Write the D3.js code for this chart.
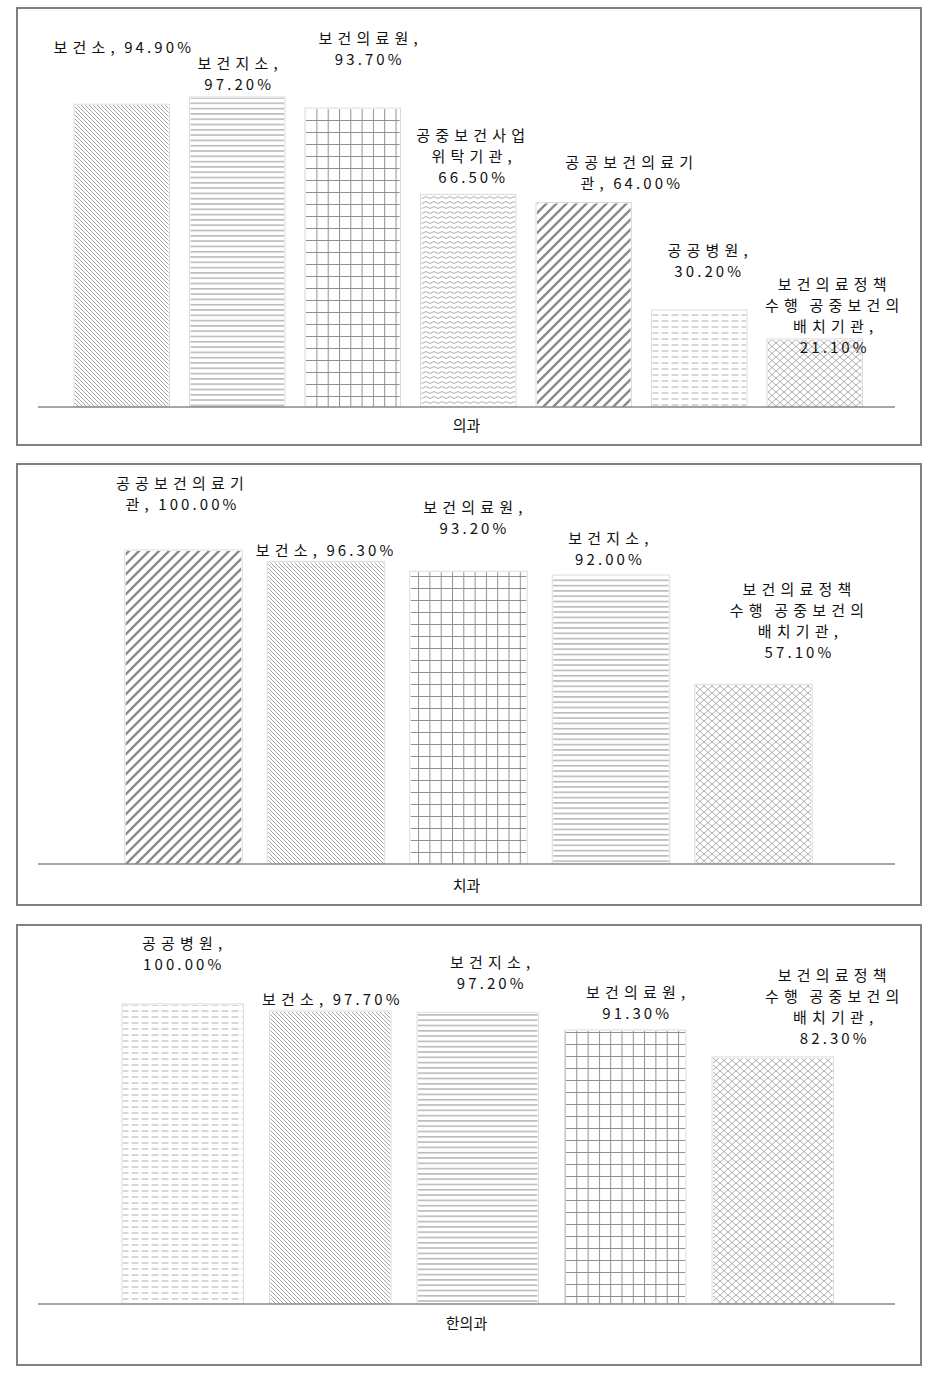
<!DOCTYPE html>
<html>
<head>
<meta charset="utf-8">
<script src="https://cdn.jsdelivr.net/npm/d3@7"></script>
<style>
  html, body { margin: 0; padding: 0; background: #ffffff; }
  svg { display: block; }
  text { font-family: "Noto Sans CJK KR", "Noto Sans", sans-serif; fill: #111; }
</style>
</head>
<body>
<svg id="chart" width="942" height="1384"></svg>
<script>
// ---------------- DATA ----------------
const panelTitles = ["의과", "치과", "한의과"];

const medCategories = ["보건소", "보건지소", "보건의료원", "공중보건사업 위탁기관", "공공보건의료기관", "공공병원", "보건의료정책 수행 공중보건의 배치기관"];
const medValues = [94.9, 97.2, 93.7, 66.5, 64.0, 30.2, 21.1];
const medLabels = [
  ["보건소, 94.90%"],
  ["보건지소,", "97.20%"],
  ["보건의료원,", "93.70%"],
  ["공중보건사업", "위탁기관,", "66.50%"],
  ["공공보건의료기", "관, 64.00%"],
  ["공공병원,", "30.20%"],
  ["보건의료정책", "수행 공중보건의", "배치기관,", "21.10%"]
];

const dentCategories = ["공공보건의료기관", "보건소", "보건의료원", "보건지소", "보건의료정책 수행 공중보건의 배치기관"];
const dentValues = [100.0, 96.3, 93.2, 92.0, 57.1];
const dentLabels = [
  ["공공보건의료기", "관, 100.00%"],
  ["보건소, 96.30%"],
  ["보건의료원,", "93.20%"],
  ["보건지소,", "92.00%"],
  ["보건의료정책", "수행 공중보건의", "배치기관,", "57.10%"]
];

const orientCategories = ["공공병원", "보건소", "보건지소", "보건의료원", "보건의료정책 수행 공중보건의 배치기관"];
const orientValues = [100.0, 97.7, 97.2, 91.3, 82.3];
const orientLabels = [
  ["공공병원,", "100.00%"],
  ["보건소, 97.70%"],
  ["보건지소,", "97.20%"],
  ["보건의료원,", "91.30%"],
  ["보건의료정책", "수행 공중보건의", "배치기관,", "82.30%"]
];

// ---------------- STYLE / LAYOUT ----------------
const patternOf = {
  "보건소": "p-down",
  "보건지소": "p-horiz",
  "보건의료원": "p-grid",
  "공중보건사업 위탁기관": "p-wave",
  "공공보건의료기관": "p-up",
  "공공병원": "p-dash",
  "보건의료정책 수행 공중보건의 배치기관": "p-cross"
};

const panels = [
  { title: panelTitles[0], cats: medCategories, vals: medValues, labels: medLabels,
    frame: [17, 8, 921, 445], base: 407, top100: 89, axisX: [38, 895], band: [64, 872.5], titleY: 424,
    labelOff: [[0, 59], [0, 15], [15, 51], [3, 20], [46, 21], [8, 41], [18, -6]] },
  { title: panelTitles[1], cats: dentCategories, vals: dentValues, labels: dentLabels,
    frame: [17, 464, 921, 905], base: 864, top100: 551, axisX: [38, 895], band: [112.25, 824.75], titleY: 884,
    labelOff: [[-3, 48], [-2, 14], [4, 45], [-3, 18], [44, 34]] },
  { title: panelTitles[2], cats: orientCategories, vals: orientValues, labels: orientLabels,
    frame: [17, 925, 921, 1365], base: 1304, top100: 1005, axisX: [38, 895], band: [109, 846.5], titleY: 1322,
    labelOff: [[-1, 42], [0, 14], [12, 31], [10, 19], [60, 21]] }
];

const svg = d3.select("#chart");
const defs = svg.append("defs");

function pat(id, w, h) {
  return defs.append("pattern").attr("id", id).attr("patternUnits", "userSpaceOnUse")
    .attr("width", w).attr("height", h);
}
// light downward diagonal "\"
pat("p-down", 4, 4).append("path")
  .attr("d", "M-1,-1 L5,5 M-1,3 L1,5 M3,-1 L5,1")
  .attr("stroke", "#959595").attr("stroke-width", 0.85).attr("fill", "none");
// horizontal lines
pat("p-horiz", 8, 5.3).append("line")
  .attr("x1", 0).attr("x2", 8).attr("y1", 2.6).attr("y2", 2.6)
  .attr("stroke", "#9a9a9a").attr("stroke-width", 1.1);
// large grid
pat("p-grid", 11.3, 12).append("path")
  .attr("d", "M0.5,0 L0.5,12 M0,0.5 L11.3,0.5")
  .attr("stroke", "#8f8f8f").attr("stroke-width", 1).attr("fill", "none");
// wave
pat("p-wave", 8, 5).append("path")
  .attr("d", "M0,2.5 Q2,0.6 4,2.5 T8,2.5")
  .attr("stroke", "#a5a5a5").attr("stroke-width", 0.9).attr("fill", "none");
// wide upward diagonal "/"
pat("p-up", 10, 10).append("path")
  .attr("d", "M-1,11 L11,-1 M-6,6 L6,-6 M4,16 L16,4")
  .attr("stroke", "#8a8a8a").attr("stroke-width", 2.4).attr("fill", "none");
// dashed horizontal
pat("p-dash", 10, 6).append("line")
  .attr("x1", 1.5).attr("x2", 8.5).attr("y1", 3).attr("y2", 3)
  .attr("stroke", "#b0b0b0").attr("stroke-width", 1);
// diagonal crosshatch (diamonds)
pat("p-cross", 8, 7).append("path")
  .attr("d", "M0,0 L8,7 M8,0 L0,7")
  .attr("stroke", "#9a9a9a").attr("stroke-width", 0.8).attr("fill", "none");

const lineH = 21;
const hangulRe = /([\uac00-\ud7a3]+)/;

panels.forEach(p => {
  const [fx0, fy0, fx1, fy1] = p.frame;
  const g = svg.append("g");

  // frame
  g.append("rect")
    .attr("x", fx0).attr("y", fy0).attr("width", fx1 - fx0).attr("height", fy1 - fy0)
    .attr("fill", "#ffffff").attr("stroke", "#808080").attr("stroke-width", 2);

  const x = d3.scaleBand().domain(p.cats).range(p.band).paddingInner(0.19).paddingOuter(0.095);
  const y = d3.scaleLinear().domain([0, 100]).range([p.base, p.top100]);

  const data = p.cats.map((c, i) => ({ cat: c, val: p.vals[i], lines: p.labels[i], off: p.labelOff[i] }));

  // bar soft edges
  g.selectAll("rect.edge").data(data).enter().append("rect")
    .attr("class", "edge")
    .attr("x", d => x(d.cat) - 1).attr("y", d => y(d.val) - 1)
    .attr("width", x.bandwidth() + 2).attr("height", d => p.base - y(d.val) + 1)
    .attr("fill", "#ffffff").attr("stroke", "#dcdcdc").attr("stroke-width", 1);

  g.selectAll("rect.bar").data(data).enter().append("rect")
    .attr("class", "bar")
    .attr("x", d => x(d.cat)).attr("y", d => y(d.val))
    .attr("width", x.bandwidth()).attr("height", d => p.base - y(d.val))
    .attr("fill", d => `url(#${patternOf[d.cat]})`);

  // baseline
  g.append("line")
    .attr("x1", p.axisX[0]).attr("x2", p.axisX[1]).attr("y1", p.base).attr("y2", p.base)
    .attr("stroke", "#8a8a8a").attr("stroke-width", 1.5);

  // category title
  g.append("text")
    .attr("x", (p.axisX[0] + p.axisX[1]) / 2).attr("y", p.titleY)
    .attr("text-anchor", "middle").attr("dominant-baseline", "central")
    .style("font-size", "15px")
    .text(p.title);

  // data labels: one text element per label, one tspan per line
  data.forEach(d => {
    const cx = x(d.cat) + x.bandwidth() / 2 + d.off[0];
    const lastY = y(d.val) - d.off[1];
    const n = d.lines.length;
    const t = g.append("text")
      .attr("text-anchor", "middle")
      .attr("dominant-baseline", "central")
      .style("font-size", "15px");
    d.lines.forEach((ln, i) => {
      const lineT = t.append("tspan")
        .attr("x", cx + 2)
        .attr("y", lastY - (n - 1 - i) * lineH)
        .attr("dominant-baseline", "central");
      ln.split(hangulRe).filter(s => s.length).forEach(part => {
        const isH = hangulRe.test(part);
        lineT.append("tspan")
          .style("letter-spacing", isH ? "5.2px" : "3.1px")
          .text(part);
      });
    });
  });
});
</script>
</body>
</html>
